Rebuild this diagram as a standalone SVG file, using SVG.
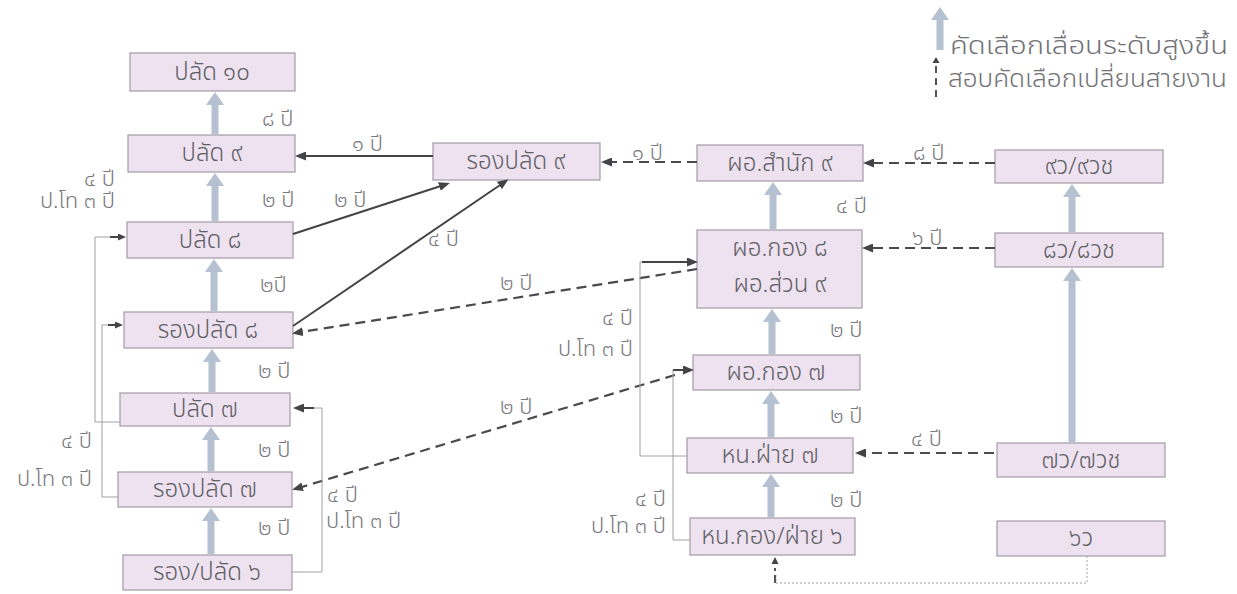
<svg xmlns="http://www.w3.org/2000/svg" width="1237" height="594" viewBox="0 0 1237 594">
<style>
.box{fill:#eee2f1;stroke:#a39aa6;stroke-width:1.2}
.bt{font-family:"Noto Sans Thai","Noto Sans","Leelawadee UI",sans-serif;font-size:24px;font-weight:300;fill:#606064;text-anchor:middle}
.lb{font-family:"Noto Sans Thai","Noto Sans","Leelawadee UI",sans-serif;font-size:22px;font-weight:300;fill:#7a797e}
.r{text-anchor:end}
.lg{font-family:"Noto Sans Thai","Noto Sans","Leelawadee UI",sans-serif;font-size:24px;font-weight:300;fill:#727276}
.big{stroke:#b5c0d0;stroke-width:7;fill:none}
.sol{stroke:#444448;stroke-width:2;fill:none}
.dsh{stroke:#4a4a4e;stroke-width:2.2;fill:none;stroke-dasharray:10 6}
.thin{stroke:#a0a0a4;stroke-width:1;fill:none}
.dot{stroke:#a0a0a4;stroke-width:1;fill:none;stroke-dasharray:2 2}
</style>
<defs>
<marker id="up" markerUnits="userSpaceOnUse" markerWidth="13" markerHeight="18" viewBox="0 0 13 18" refX="1" refY="9" orient="auto"><path d="M0,0 L13,9 L0,18 Z" fill="#b5c0d0"/></marker>
<marker id="ah" markerUnits="userSpaceOnUse" markerWidth="11" markerHeight="9" viewBox="0 0 11 9" refX="8" refY="4.5" orient="auto"><path d="M0,0 L11,4.5 L0,9 Z" fill="#444448"/></marker>
<marker id="ahs" markerUnits="userSpaceOnUse" markerWidth="8" markerHeight="7" viewBox="0 0 8 7" refX="6" refY="3.5" orient="auto"><path d="M0,0 L8,3.5 L0,7 Z" fill="#444448"/></marker>
</defs>

<g id="legend">
<line class="big" x1="940" y1="50" x2="940" y2="19" marker-end="url(#up)"/>
<text class="lg" x="950" y="54" textLength="278" lengthAdjust="spacingAndGlyphs">คัดเลือกเลื่อนระดับสูงขึ้น</text>
<path d="M936,57 L939.5,63 L932.5,63 Z" fill="#444448"/>
<line x1="936" y1="66" x2="936" y2="98" stroke="#555" stroke-width="2" stroke-dasharray="7 5"/>
<text class="lg" x="948" y="87" textLength="279" lengthAdjust="spacingAndGlyphs">สอบคัดเลือกเปลี่ยนสายงาน</text>
</g>

<g id="n-p10"><rect class="box" x="130" y="53" width="165" height="38"/><text class="bt" x="212" y="80">ปลัด ๑๐</text></g>
<g id="n-p9"><rect class="box" x="128" y="135" width="167" height="37"/><text class="bt" x="212" y="161">ปลัด ๙</text></g>
<g id="n-p8"><rect class="box" x="127" y="222" width="166" height="36"/><text class="bt" x="210" y="248">ปลัด ๘</text></g>
<g id="n-rp8"><rect class="box" x="124" y="312" width="169" height="36"/><text class="bt" x="208" y="338">รองปลัด ๘</text></g>
<g id="n-p7"><rect class="box" x="120" y="393" width="170" height="33"/><text class="bt" x="205" y="417">ปลัด ๗</text></g>
<g id="n-rp7"><rect class="box" x="118" y="472" width="174" height="35"/><text class="bt" x="205" y="497">รองปลัด ๗</text></g>
<g id="n-rp6"><rect class="box" x="123" y="555" width="169" height="35"/><text class="bt" x="207" y="580">รอง/ปลัด ๖</text></g>
<g id="n-rp9"><rect class="box" x="433" y="143" width="167" height="37"/><text class="bt" x="516" y="169">รองปลัด ๙</text></g>
<g id="n-dir9"><rect class="box" x="697" y="145" width="166" height="36"/><text class="bt" x="780" y="171">ผอ.สำนัก ๙</text></g>
<g id="n-dir8"><rect class="box" x="697" y="230" width="165" height="78"/><text class="bt" x="780" y="256">ผอ.กอง ๘</text><text class="bt" x="780" y="292">ผอ.ส่วน ๙</text></g>
<g id="n-dir7"><rect class="box" x="693" y="355" width="167" height="35"/><text class="bt" x="776" y="380">ผอ.กอง ๗</text></g>
<g id="n-h7"><rect class="box" x="687" y="438" width="166" height="35"/><text class="bt" x="770" y="463">หน.ฝ่าย ๗</text></g>
<g id="n-h6"><rect class="box" x="690" y="518" width="165" height="37"/><text class="bt" x="772" y="544">หน.กอง/ฝ่าย ๖</text></g>
<g id="n-v9"><rect class="box" x="995" y="150" width="168" height="33"/><text class="bt" x="1079" y="174">๙ว/๙วช</text></g>
<g id="n-v8"><rect class="box" x="995" y="233" width="168" height="34"/><text class="bt" x="1079" y="258">๘ว/๘วช</text></g>
<g id="n-v7"><rect class="box" x="997" y="443" width="168" height="34"/><text class="bt" x="1081" y="468">๗ว/๗วช</text></g>
<g id="n-v6"><rect class="box" x="997" y="521" width="168" height="35"/><text class="bt" x="1081" y="546">๖ว</text></g>

<g id="connectors">
<line class="big" x1="215" y1="134" x2="215" y2="104" marker-end="url(#up)"/>
<line class="big" x1="215" y1="221" x2="215" y2="185" marker-end="url(#up)"/>
<line class="big" x1="214" y1="311" x2="214" y2="271" marker-end="url(#up)"/>
<line class="big" x1="212" y1="392" x2="212" y2="361" marker-end="url(#up)"/>
<line class="big" x1="211" y1="471" x2="211" y2="439" marker-end="url(#up)"/>
<line class="big" x1="211" y1="554" x2="211" y2="520" marker-end="url(#up)"/>
<line class="big" x1="773" y1="229" x2="773" y2="194" marker-end="url(#up)"/>
<line class="big" x1="772" y1="354" x2="772" y2="321" marker-end="url(#up)"/>
<line class="big" x1="771" y1="437" x2="771" y2="403" marker-end="url(#up)"/>
<line class="big" x1="771" y1="517" x2="771" y2="486" marker-end="url(#up)"/>
<line class="big" x1="1072" y1="232" x2="1072" y2="196" marker-end="url(#up)"/>
<line class="big" x1="1072" y1="442" x2="1072" y2="280" marker-end="url(#up)"/>

<line class="sol" x1="433" y1="156" x2="298" y2="156" marker-end="url(#ah)"/>
<line class="sol" x1="293" y1="234" x2="447" y2="184" marker-end="url(#ah)"/>
<line class="sol" x1="293" y1="326" x2="506" y2="181" marker-end="url(#ah)"/>

<line class="dsh" x1="697" y1="162" x2="604" y2="162" marker-end="url(#ah)"/>
<line class="dsh" x1="995" y1="163" x2="866" y2="163" marker-end="url(#ah)"/>
<line class="dsh" x1="995" y1="248" x2="865" y2="248" marker-end="url(#ah)"/>
<line class="dsh" x1="994" y1="453" x2="858" y2="453" marker-end="url(#ah)"/>
<line class="dsh" x1="697" y1="269" x2="295" y2="333" marker-end="url(#ah)"/>
<line class="dsh" x1="675" y1="375" x2="295" y2="489" marker-end="url(#ah)"/>

<polyline class="thin" points="120,422 95,422 95,237 112,237"/>
<line class="sol" x1="110" y1="237" x2="124" y2="237" marker-end="url(#ahs)"/>
<polyline class="thin" points="118,497 102,497 102,325 110,325"/>
<line class="sol" x1="108" y1="325" x2="121" y2="325" marker-end="url(#ahs)"/>
<polyline class="thin" points="292,572 322,572 322,408 312,408"/>
<line class="sol" x1="314" y1="408" x2="296" y2="408" marker-end="url(#ah)"/>
<polyline class="thin" points="687,456 640,456 640,262 645,262"/>
<line class="sol" x1="642" y1="262" x2="695" y2="262" marker-end="url(#ah)"/>
<polyline class="thin" points="690,540 673,540 673,370"/>
<line class="sol" x1="673" y1="370" x2="691" y2="370" marker-end="url(#ah)"/>

<polyline class="dot" points="1087,556 1087,583 776,583 776,575"/>
<line x1="775" y1="583" x2="775" y2="568" stroke="#555" stroke-width="2" stroke-dasharray="8 4"/>
<path d="M775,557 L778.5,564 L771.5,564 Z" fill="#444448"/>
</g>

<g id="labels">
<text class="lb" x="262" y="126">๘ ปี</text>
<text class="lb" x="262" y="207">๒ ปี</text>
<text class="lb" x="260" y="292">๒ปี</text>
<text class="lb" x="258" y="378">๒ ปี</text>
<text class="lb" x="258" y="457">๒ ปี</text>
<text class="lb" x="258" y="535">๒ ปี</text>
<text class="lb" x="352" y="151">๑ ปี</text>
<text class="lb" x="334" y="207">๒ ปี</text>
<text class="lb" x="428" y="246">๔ ปี</text>
<text class="lb r" x="115" y="186">๔ ปี</text>
<text class="lb r" x="115" y="208">ป.โท ๓ ปี</text>
<text class="lb r" x="92" y="448">๔ ปี</text>
<text class="lb r" x="92" y="486">ป.โท ๓ ปี</text>
<text class="lb" x="327" y="502">๔ ปี</text>
<text class="lb" x="326" y="528">ป.โท ๓ ปี</text>
<text class="lb" x="632" y="160">๑ ปี</text>
<text class="lb" x="913" y="160">๘ ปี</text>
<text class="lb" x="912" y="245">๖ ปี</text>
<text class="lb" x="911" y="446">๔ ปี</text>
<text class="lb" x="836" y="213">๔ ปี</text>
<text class="lb" x="500" y="290">๒ ปี</text>
<text class="lb" x="500" y="414">๒ ปี</text>
<text class="lb" x="830" y="337">๒ ปี</text>
<text class="lb" x="830" y="423">๒ ปี</text>
<text class="lb" x="830" y="507">๒ ปี</text>
<text class="lb r" x="633" y="325">๔ ปี</text>
<text class="lb r" x="633" y="356">ป.โท ๓ ปี</text>
<text class="lb r" x="666" y="506">๔ ปี</text>
<text class="lb r" x="666" y="533">ป.โท ๓ ปี</text>
</g>
</svg>
